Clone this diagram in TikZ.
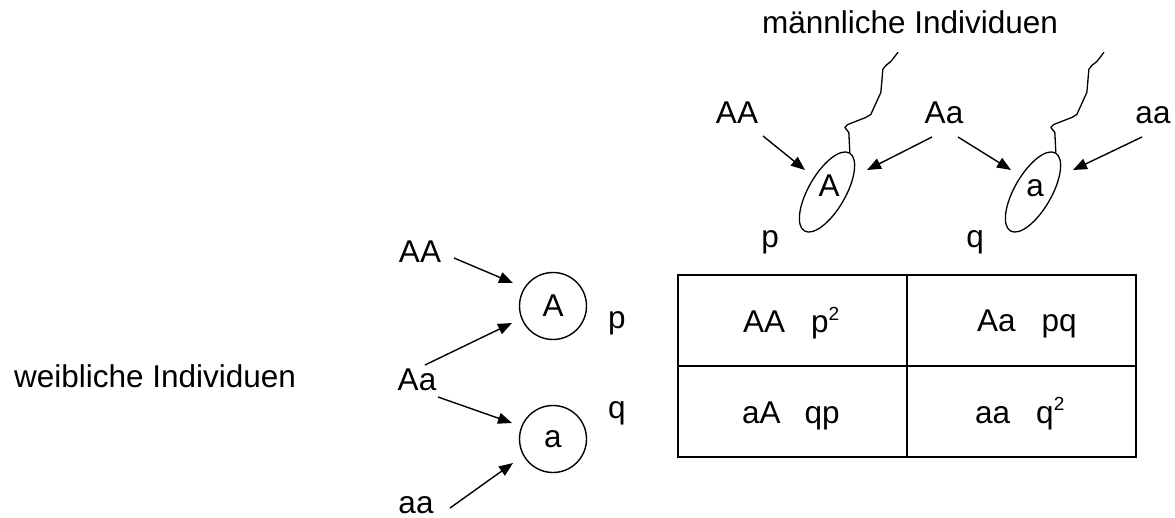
\documentclass[tikz,border=0pt]{standalone}
\usepackage{fontspec}
\setmainfont{Liberation Sans}
\usetikzlibrary{arrows.meta,shapes.geometric}
\begin{document}
\begin{tikzpicture}[x=1pt,y=-1pt,
  lbl/.style={inner sep=0pt, anchor=base, font=\fontsize{31.5}{36}\selectfont},
  lblw/.style={lbl, anchor=base west},
  arr/.style={line width=1.4pt, -{Triangle[length=14pt,width=11pt]}},
  gamete/.style={draw, circle, line width=1.4pt, minimum size=67pt, inner sep=0pt,
    font=\fontsize{31.5}{36}\selectfont},
  sperm/.style={draw, ellipse, line width=1.3pt, minimum width=90pt, minimum height=37pt,
    inner sep=0pt, rotate=60},
  cell/.style={draw, line width=2pt, minimum width=229pt, minimum height=91pt, inner sep=0pt},
  tail/.style={line width=1.3pt, line join=round, line cap=round}]
\useasboundingbox (0,0) rectangle (1175,518);
\newcommand{\sq}{\raisebox{12.5pt}{\fontsize{19}{19}\selectfont 2}}

% titles
\node[lbl] (male) at (910,34) {männliche Individuen};
\node[lbl] (female) at (155,388) {weibliche Individuen};

% male parents and their sperm cells
\node[lbl] (AAm) at (737,124) {AA};
\node[lbl] (Aam) at (944,124) {Aa};
\node[lbl] (aam) at (1153,124) {aa};
\node[sperm] (eA) at (827,192) {};
\node[sperm] (ea) at (1033,192) {};
\node[lbl] (eAl) at (829,197) {A};
\node[lbl] (eal) at (1035,197) {a};
\node[lbl] (pm) at (770,248) {p};
\node[lbl] (qm) at (975,248) {q};

% sperm tails
\draw[tail] (eA.east) -- ++(-1,-20) -- ++(-4,-5) -- ++(3,-3) -- ++(18,-7) -- ++(5,-3)
  -- ++(10,-22) -- ++(1,-11) -- ++(1,-12) -- ++(3,-4) -- ++(5,-4) -- ++(4,-5) -- ++(3,-4);
\draw[tail] (ea.east) -- ++(-1,-20) -- ++(-4,-5) -- ++(3,-3) -- ++(18,-7) -- ++(5,-3)
  -- ++(10,-22) -- ++(1,-11) -- ++(1,-12) -- ++(3,-4) -- ++(5,-4) -- ++(4,-5) -- ++(3,-4);

% female parents and their egg cells
\node[lbl] (AAf) at (420,263) {AA};
\node[lbl] (Aaf) at (417,390) {Aa};
\node[lbl] (aaf) at (416,513) {aa};
\node[gamete] (cA) at (553,306) {A};
\node[gamete] (ca) at (553,439) {a};
\node[lbl] (pf) at (617,329) {p};
\node[lbl] (qf) at (617,418) {q};

% arrow ends
\coordinate (m1s) at (763,136); \coordinate (m1t) at (805,170);
\coordinate (m2s) at (932,137); \coordinate (m2t) at (867,170);
\coordinate (m3s) at (958,137); \coordinate (m3t) at (1011,170);
\coordinate (m4s) at (1142,137); \coordinate (m4t) at (1073,170);
\coordinate (f1s) at (454,258); \coordinate (f1t) at (513,283);
\coordinate (f2s) at (425,365); \coordinate (f2t) at (512,323);
\coordinate (f3s) at (438,397); \coordinate (f3t) at (512,423);
\coordinate (f4s) at (450,508); \coordinate (f4t) at (513,463);

\draw[arr] (m1s) -- (m1t);
\draw[arr] (m2s) -- (m2t);
\draw[arr] (m3s) -- (m3t);
\draw[arr] (m4s) -- (m4t);
\draw[arr] (f1s) -- (f1t);
\draw[arr] (f2s) -- (f2t);
\draw[arr] (f3s) -- (f3t);
\draw[arr] (f4s) -- (f4t);

% combination square
\node[cell] (c11) at (792.5,320.5) {};
\node[cell] (c12) at (1021.5,320.5) {};
\node[cell] (c21) at (792.5,411.5) {};
\node[cell] (c22) at (1021.5,411.5) {};
\node[lblw] (t11) at (743,333) {AA\hspace{26pt}p\sq};
\node[lblw] (t12) at (977,332) {Aa\hspace{26pt}pq};
\node[lblw] (t21) at (742,423) {aA\hspace{24pt}qp};
\node[lblw] (t22) at (975,423) {aa\hspace{26pt}q\sq};
\end{tikzpicture}
\end{document}
